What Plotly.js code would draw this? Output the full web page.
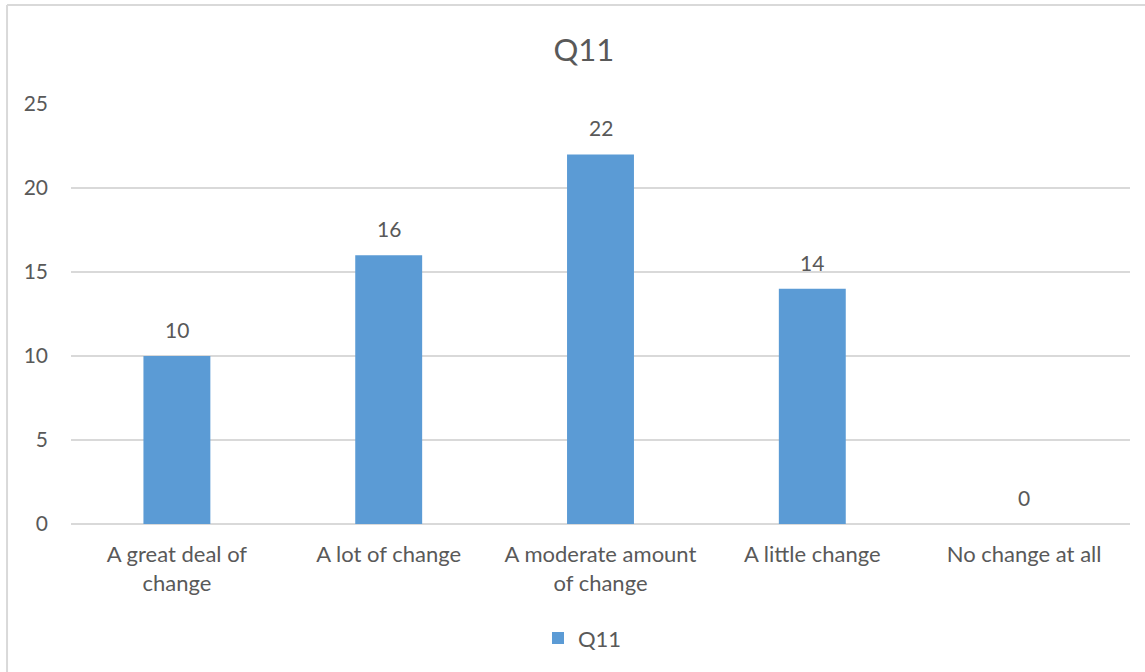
<!DOCTYPE html>
<html>
<head>
<meta charset="utf-8">
<script src="https://cdn.plot.ly/plotly-3.0.1.min.js"></script>
<style>
html,body{margin:0;padding:0;background:#fff;}
#chart{width:1145px;height:672px;}
</style>
</head>
<body>
<div id="chart"></div>
<script>
const categories = ["A great deal of<br>change", "A lot of change", "A moderate amount<br>of change", "A little change", "No change at all"];
const values = [10, 16, 22, 14, 0];
const seriesName = "Q11";
const yTicks = [0, 5, 10, 15, 20, 25];

const font = "Lato, 'Open Sans', sans-serif";
const grey = "#595959";

const trace = {
  type: "bar",
  x: categories,
  y: values,
  name: seriesName,
  marker: {color: "#5b9bd5"},
  hoverinfo: "none"
};

const annotations = categories.map((c, i) => ({
  x: c, y: values[i], xref: "x", yref: "y",
  text: String(values[i]), showarrow: false,
  yanchor: "bottom", yshift: 12,
  font: {family: font, size: 21, color: grey}
}));

const layout = {
  width: 1145, height: 672,
  margin: {l: 71, r: 15, t: 104, b: 148},
  paper_bgcolor: "#fff", plot_bgcolor: "#fff",
  title: {text: "Q11", x: 0.51, xanchor: "center", y: 0.925, yanchor: "middle",
          font: {family: font, size: 31, color: grey}},
  bargap: 0.684,
  showlegend: true,
  legend: {orientation: "h", x: 0.483, xanchor: "center", y: -0.272, yanchor: "middle",
           font: {family: font, size: 22, color: grey}, itemwidth: 30},
  xaxis: {
    showgrid: false, zeroline: false, showline: false, ticks: "",
    ticklabelstandoff: 15,
    tickfont: {family: font, size: 22, color: grey}, fixedrange: true
  },
  yaxis: {
    range: [0, 25], tickvals: yTicks, showgrid: true, gridcolor: "#d9d9d9", gridwidth: 1.3,
    zeroline: true, zerolinecolor: "#d9d9d9", zerolinewidth: 1.3, showline: false,
    ticks: "", ticklabelstandoff: 22,
    tickfont: {family: font, size: 21, color: grey}, fixedrange: true
  },
  annotations: annotations,
  shapes: [
    {type: "line", xref: "paper", yref: "paper", x0: -0.0604, x1: -0.0604, y0: 1.2357, y1: -0.5,
     line: {color: "#d9d9d9", width: 2}},
    {type: "line", xref: "paper", yref: "paper", x0: -0.0604, x1: 1.05, y0: 1.2357, y1: 1.2357,
     line: {color: "#d9d9d9", width: 2}}
  ]
};

Plotly.newPlot("chart", [trace], layout, {displayModeBar: false, staticPlot: true});
</script>
</body>
</html>
